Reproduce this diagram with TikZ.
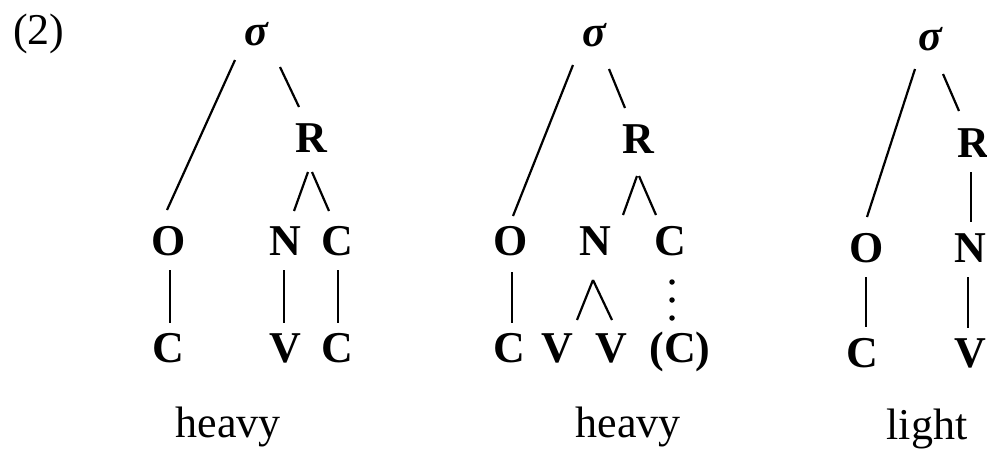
\documentclass[tikz,border=0pt]{standalone}
\usepackage{fontspec}
\setmainfont{Liberation Serif}
\usetikzlibrary{calc}
\begin{document}
\begin{tikzpicture}[x=1pt,y=-1pt,
  every node/.style={inner sep=0pt, outer sep=0pt, anchor=base},
  letterbox/.style={font=\fontsize{44}{50}\selectfont\bfseries},
  sigbox/.style={font=\fontsize{44}{50}\selectfont\bfseries\itshape},
  wordbox/.style={font=\fontsize{44}{50}\selectfont},
  edgeline/.style={line width=2.2pt},
  dotline/.style={line width=5.5pt, line cap=round, dash pattern=on 0pt off 18pt}]
\useasboundingbox (0,0) rectangle (987,456);
\fill[white] (0,0) rectangle (987,456);

\node[wordbox] (ex) at (39,44) {(2)};

% ---------- tree 1 ----------
\node[sigbox] (s1) at (256,45) {σ};
\node[letterbox] (R1) at (311,152) {R};
\node[letterbox] (O1) at (169,255) {O};
\node[letterbox] (N1) at (285,255) {N};
\node[letterbox] (C1) at (337,255) {C};
\node[letterbox] (c1) at (168,362) {C};
\node[letterbox] (V1) at (285,362) {V};
\node[letterbox] (c1b) at (337,362) {C};
\node[wordbox] (h1) at (228,437) {heavy};

\draw[edgeline] ($(s1.base)+(-21,15)$) -- ($(O1.base)+(-2,-45)$);
\draw[edgeline] ($(s1.base)+(24,22)$) -- ($(R1.base)+(-12,-45)$);
\draw[edgeline] ($(R1.base)+(-3,20)$) -- ($(N1.base)+(9,-44)$);
\draw[edgeline] ($(R1.base)+(1,20)$) -- ($(C1.base)+(-8,-44)$);
\draw[edgeline] ($(O1.base)+(1,15)$) -- ($(c1.base)+(2,-39)$);
\draw[edgeline] ($(N1.base)+(-1,15)$) -- ($(V1.base)+(-1,-39)$);
\draw[edgeline] ($(C1.base)+(1,15)$) -- ($(c1b.base)+(1,-39)$);

% ---------- tree 2 ----------
\node[sigbox] (s2) at (594,46) {σ};
\node[letterbox] (R2) at (638,153) {R};
\node[letterbox] (O2) at (511,255) {O};
\node[letterbox] (N2) at (595,255) {N};
\node[letterbox] (C2) at (670,255) {C};
\node[letterbox] (c2) at (509,362) {C};
\node[letterbox] (v2a) at (557,362) {V};
\node[letterbox] (v2b) at (611,362) {V};
\node[letterbox] (cp2) at (680,362) {(C)};
\node[wordbox] (h2) at (628,437) {heavy};

\draw[edgeline] ($(s2.base)+(-21,19)$) -- ($(O2.base)+(2,-39)$);
\draw[edgeline] ($(s2.base)+(15,23)$) -- ($(R2.base)+(-13,-45)$);
\draw[edgeline] ($(R2.base)+(-1,23)$) -- ($(N2.base)+(28,-40)$);
\draw[edgeline] ($(R2.base)+(1,23)$) -- ($(C2.base)+(-14,-40)$);
\draw[edgeline] ($(O2.base)+(1,17)$) -- ($(c2.base)+(3,-39)$);
\draw[edgeline] ($(N2.base)+(-2,25)$) -- ($(v2a.base)+(20,-42)$);
\draw[edgeline] ($(N2.base)+(-2,25)$) -- ($(v2b.base)+(1,-42)$);
\draw[dotline] ($(C2.base)+(2,27)$) -- ($(cp2.base)+(-8,-44)$);

% ---------- tree 3 ----------
\node[sigbox] (s3) at (930,50) {σ};
\node[letterbox] (R3) at (973,157) {R};
\node[letterbox] (O3) at (867,262) {O};
\node[letterbox] (N3) at (970,262) {N};
\node[letterbox] (c3) at (862,367) {C};
\node[letterbox] (V3) at (970,367) {V};
\node[wordbox] (l3) at (927,439) {light};

\draw[edgeline] ($(s3.base)+(-15,19)$) -- ($(O3.base)+(0,-45)$);
\draw[edgeline] ($(s3.base)+(13,24)$) -- ($(R3.base)+(-14,-46)$);
\draw[edgeline] ($(R3.base)+(-2,15)$) -- ($(N3.base)+(1,-40)$);
\draw[edgeline] ($(O3.base)+(-1,15)$) -- ($(c3.base)+(4,-40)$);
\draw[edgeline] ($(N3.base)+(-2,15)$) -- ($(V3.base)+(-2,-39)$);
\end{tikzpicture}
\end{document}
